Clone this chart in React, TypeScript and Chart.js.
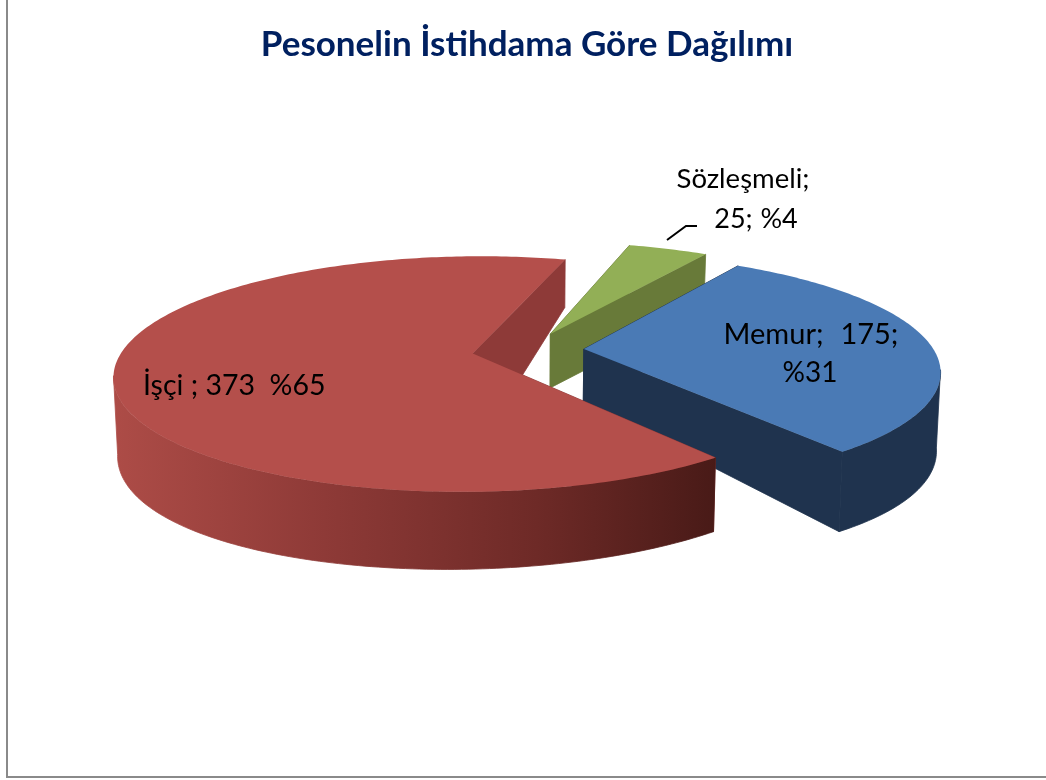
import React, { useEffect, useRef } from "react";
import { Chart, registerables } from "chart.js";

Chart.register(...registerables);

const categories = ["Memur", "İşçi", "Sözleşmeli"];
const counts = [175, 373, 25];
const percents = [31, 65, 4];
const sliceColors = ["#4A7AB5", "#B44F4B", "#92AF56"];
const chartTitle = "Pesonelin İstihdama Göre Dağılımı";

const FONT = "Lato, Carlito, 'Open Sans', sans-serif";

// camera used to turn the flat pie angles into the tilted 3-D disc
const CX = 528, CY = 350, RX = 350, RY = 113, PERSP = 0.174, EXPLODE = 0.16;
const APEX_DEPTH = [52, 100, 54];
const FACE_COLORS = ["#1F334E", "#8E3A38", "#687A39"];
const DRAW_ORDER = [2, 0, 1];

const project = (X: number, Y: number) => {
  const w = 1 - PERSP * Y;
  return { x: CX + (RX * X) / w, y: CY + (RY * Y) / w };
};
const rimDepth = (X: number, Y: number) => 52 + 18 * X * X + 14 * Y + 10 * Y * Y;
const lower = (p: { x: number; y: number }, d: number) => ({
  x: CX + (p.x - CX) * 0.99,
  y: p.y + d,
});

const pie3d = {
  id: "pie3d",
  beforeDraw(chart: any) {
    const { ctx, width, height } = chart;
    ctx.save();
    ctx.fillStyle = "#ffffff";
    ctx.fillRect(0, 0, width, height);
    ctx.strokeStyle = "#8a8a8a";
    ctx.lineWidth = 2;
    ctx.beginPath();
    ctx.moveTo(7, 0);
    ctx.lineTo(7, 777);
    ctx.lineTo(width, 777);
    ctx.stroke();
    ctx.restore();
  },
  beforeDatasetDraw(chart: any) {
    const ctx = chart.ctx;
    const arcs = chart.getDatasetMeta(0).data;
    ctx.save();
    ctx.lineWidth = 0.8;
    ctx.lineJoin = "round";
    for (const i of DRAW_ORDER) {
      const arc = arcs[i];
      const a0 = arc.startAngle, a1 = arc.endAngle;
      const mid = (a0 + a1) / 2;
      const ox = EXPLODE * Math.cos(mid), oy = EXPLODE * Math.sin(mid);
      const n = Math.max(8, Math.ceil((a1 - a0) * 60));
      const angles: number[] = [];
      const rim: { x: number; y: number }[] = [];
      const rimLow: { x: number; y: number }[] = [];
      for (let k = 0; k <= n; k++) {
        const a = a0 + ((a1 - a0) * k) / n;
        const X = ox + Math.cos(a), Y = oy + Math.sin(a);
        const p = project(X, Y);
        angles.push(a);
        rim.push(p);
        rimLow.push(lower(p, rimDepth(X, Y)));
      }
      const apex = project(ox, oy);
      const apexLow = lower(apex, APEX_DEPTH[i]);

      // radial end faces
      ctx.fillStyle = FACE_COLORS[i];
      ctx.strokeStyle = FACE_COLORS[i];
      const ends = [[rim[0], rimLow[0]], [rim[n], rimLow[n]]];
      for (let e = 0; e < ends.length; e++) {
        const [t, b] = ends[e];
        ctx.beginPath();
        ctx.moveTo(apex.x, apex.y);
        ctx.lineTo(t.x, t.y);
        ctx.lineTo(b.x, b.y);
        ctx.lineTo(apexLow.x, apexLow.y);
        ctx.closePath();
        ctx.fill();
        ctx.stroke();
      }

      // curved outer wall: only the part below the disc's silhouette points
      let wall: any = FACE_COLORS[i];
      if (i === 1) {
        wall = ctx.createLinearGradient(113, 0, 718, 0);
        wall.addColorStop(0, "#AD4C47");
        wall.addColorStop(0.35, "#8E3A37");
        wall.addColorStop(0.7, "#6E2A27");
        wall.addColorStop(1, "#481A17");
      }
      ctx.fillStyle = wall;
      ctx.strokeStyle = wall;
      const front = angles.map((a) => Math.sin(a) > PERSP);
      const first = front.indexOf(true);
      const last = front.lastIndexOf(true);
      if (first >= 0) {
        ctx.beginPath();
        ctx.moveTo(rim[first].x, rim[first].y);
        for (let k = first + 1; k <= last; k++) ctx.lineTo(rim[k].x, rim[k].y);
        for (let k = last; k >= first; k--) ctx.lineTo(rimLow[k].x, rimLow[k].y);
        ctx.closePath();
        ctx.fill();
        ctx.stroke();
      }

      // top surface
      ctx.fillStyle = arc.options.backgroundColor;
      ctx.beginPath();
      ctx.moveTo(apex.x, apex.y);
      rim.forEach((p) => ctx.lineTo(p.x, p.y));
      ctx.closePath();
      ctx.fill();
    }
    ctx.restore();
    return false;
  },
  afterDatasetsDraw(chart: any) {
    const ctx = chart.ctx;
    ctx.save();
    ctx.fillStyle = "#000000";
    ctx.textBaseline = "middle";
    ctx.textAlign = "center";
    ctx.font = `29px ${FONT}`;
    (ctx as any).wordSpacing = "1px";
    ctx.fillText(`${categories[0]};  ${counts[0]};`, 811, 335);
    (ctx as any).wordSpacing = "0px";
    ctx.font = `28px ${FONT}`;
    ctx.fillText(`%${percents[0]}`, 810, 373);
    ctx.font = `27.5px ${FONT}`;
    ctx.fillText(`${categories[2]};`, 743, 179);
    (ctx as any).wordSpacing = "-3px";
    ctx.font = `27px ${FONT}`;
    ctx.fillText(`${counts[2]};  %${percents[2]}`, 756, 219);
    (ctx as any).wordSpacing = "0px";
    ctx.textAlign = "left";
    ctx.font = `28.5px ${FONT}`;
    ctx.fillText(`${categories[1]} ; ${counts[1]}  %${percents[1]}`, 143, 386);
    ctx.strokeStyle = "#000000";
    ctx.lineWidth = 2;
    ctx.beginPath();
    ctx.moveTo(667, 240);
    ctx.lineTo(686, 226);
    ctx.lineTo(697, 226);
    ctx.stroke();
    ctx.restore();
  },
};

export default function App() {
  const ref = useRef<HTMLCanvasElement>(null);
  useEffect(() => {
    const chart = new Chart(ref.current as HTMLCanvasElement, {
      type: "pie",
      data: {
        labels: categories,
        datasets: [{ data: counts, backgroundColor: sliceColors, borderWidth: 0 }],
      },
      options: {
        responsive: false,
        animation: false,
        rotation: 32,
        layout: { padding: { left: 8 } },
        plugins: {
          legend: { display: false },
          tooltip: { enabled: false },
          title: {
            display: true,
            text: chartTitle,
            color: "#002060",
            font: { family: FONT, size: 35, weight: "bold" },
            padding: { top: 24, bottom: 10 },
          },
        },
      },
      plugins: [pie3d],
    } as any);
    return () => chart.destroy();
  }, []);
  return (
    <div style={{ position: "fixed", left: 0, top: 0 }}>
      <canvas ref={ref} width={1046} height={780} style={{ display: "block" }} />
    </div>
  );
}
